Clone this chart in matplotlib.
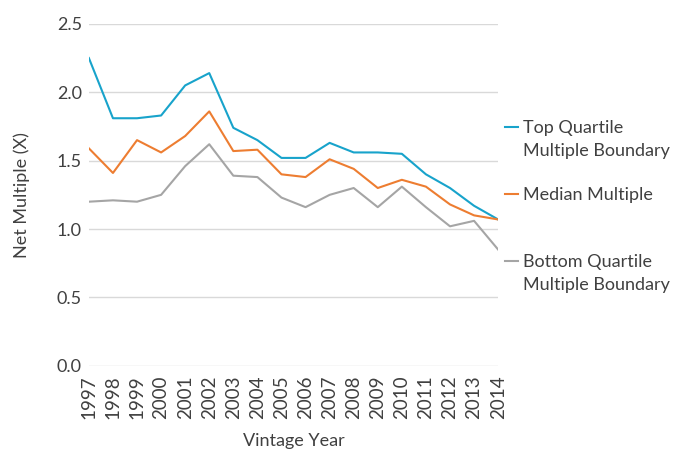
import numpy as np
import matplotlib.pyplot as plt

years = list(range(1997, 2015))
top_quartile = [2.25, 1.81, 1.81, 1.83, 2.05, 2.14, 1.74, 1.65, 1.52, 1.52,
                1.63, 1.56, 1.56, 1.55, 1.40, 1.30, 1.17, 1.07]
median = [1.59, 1.41, 1.65, 1.56, 1.68, 1.86, 1.57, 1.58, 1.40, 1.38,
          1.51, 1.44, 1.30, 1.36, 1.31, 1.18, 1.10, 1.07]
bottom_quartile = [1.20, 1.21, 1.20, 1.25, 1.46, 1.62, 1.39, 1.38, 1.23, 1.16,
                   1.25, 1.30, 1.16, 1.31, 1.16, 1.02, 1.06, 0.85]

series = [
    ('Top Quartile\nMultiple Boundary', top_quartile, '#18A3CB'),
    ('Median Multiple', median, '#ED7D31'),
    ('Bottom Quartile\nMultiple Boundary', bottom_quartile, '#A5A5A5'),
]

plt.rcParams['font.family'] = ['Lato', 'DejaVu Sans']
txt = '#404040'

fig = plt.figure(figsize=(6.89, 4.5), dpi=100)
ax = fig.add_axes([0.129, 0.187, 0.594, 0.76])

for label, vals, col in series:
    ax.plot(years, vals, color=col, lw=1.5)

ax.set_xlim(1997, 2014)
ax.set_ylim(0, 2.5)
ax.set_xticks(years)
ax.set_xticklabels([str(y) for y in years], rotation=90, fontsize=13.5, color=txt)
ax.set_yticks(np.arange(0, 2.51, 0.5))
ax.set_yticklabels(['%.1f' % v for v in np.arange(0, 2.51, 0.5)], fontsize=13, color=txt)
ax.tick_params(axis='x', length=0, pad=7)
ax.tick_params(axis='y', length=0, pad=5)
ax.yaxis.grid(True, color='#D9D9D9', lw=1)
ax.set_axisbelow(True)
for s in ax.spines.values():
    s.set_visible(False)

ax.set_xlabel('Vintage Year', fontsize=13, color=txt, labelpad=10)
ax.set_ylabel('Net Multiple (X)', fontsize=13, color=txt, labelpad=19)

# legend: handle aligned with first text line, like the original
leg_y = [0.699, 0.503, 0.307]
for (label, vals, col), yy in zip(series, leg_y):
    ax.plot([1.017, 1.049], [yy, yy], color=col, lw=1.5,
            transform=ax.transAxes, clip_on=False)
    ax.text(1.061, yy + 0.020, label, transform=ax.transAxes, fontsize=13,
            color=txt, va='top', ha='left', linespacing=1.55)

fig.savefig('out.png', dpi=100)
